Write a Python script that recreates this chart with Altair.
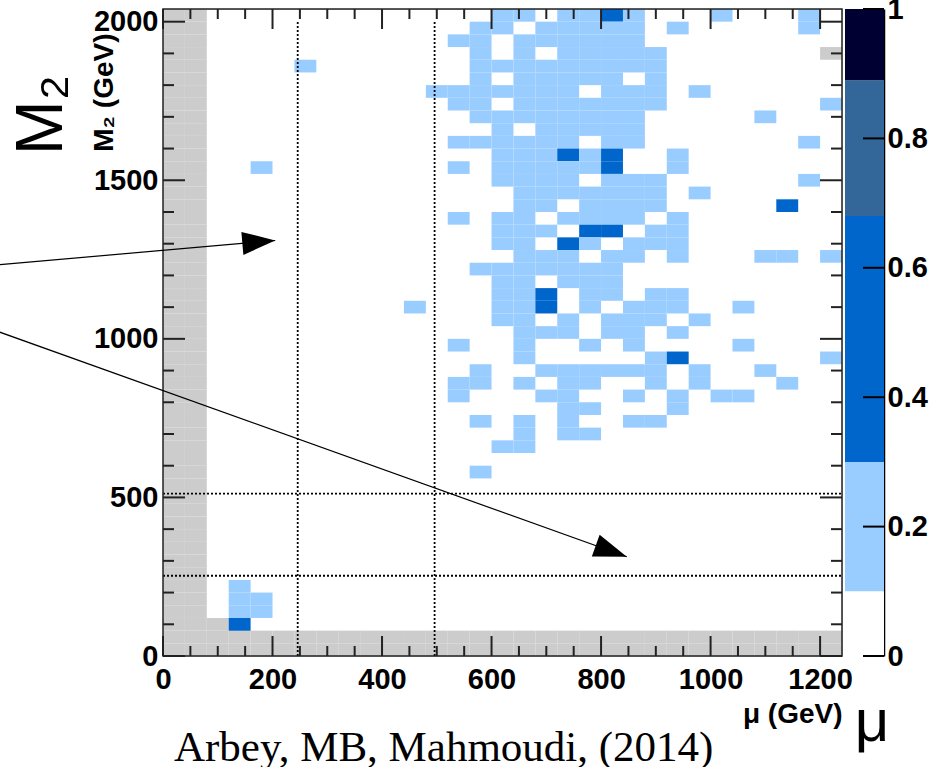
import altair as alt
import pandas as pd

# ---- scan binning ---------------------------------------------------------
MU_EDGE = 40          # GeV per mu bin
M2_EDGE = 40          # GeV per M2 bin
MU_RANGE = [0, 1240]
M2_RANGE = [0, 2040]

# One string per M2 bin, top bin (2000-2040 GeV) first; one character per mu bin.
#   '#' outside the scanned region, '.' fraction below 0.1,
#   'a' fraction 0.1-0.3, 'b' fraction 0.3-0.68
GRID_ROWS = [
    "##" + "............." + "aa.aaba...a...a.",
    "##" + "............a" + "a.aaaaa.a.....a.",
    "##" + "...........aa" + ".aaaaaa.........",
    "##" + "............a" + ".a.aaaaa.......#",
    "##" + "....a.......a" + "aaaaaaaa........",
    "##" + "............a" + ".aaaaa.a........",
    "##" + "..........aaa" + "aaaa.aaa.a......",
    "##" + "...........aa" + ".aaaaaaa.......a",
    "##" + "............a" + "aaaaaaa.....a...",
    "##" + "............." + "a.aaaaa.........",
    "##" + "...........aa" + "aaaa.aa.......a.",
    "##" + "............." + "aaabab..a.......",
    "##" + "..a........a." + "aaaaab..a.......",
    "##" + "............." + "aaaa.aaa......a.",
    "##" + "............." + ".aaaaaaa.a......",
    "##" + "............." + ".aa.aaaa.....b..",
    "##" + "...........a." + "aa.aaaa.a.......",
    "##" + "............." + "aaa.bb.aa.......",
    "##" + "............." + "aa.ba.aaa.......",
    "##" + "............." + ".aaa.aa.a...aa.a",
    "##" + "............a" + "aaaaaa..........",
    "##" + "............." + "aa.aaa..........",
    "##" + "............." + "aab.aa.aa.......",
    "##" + ".........a..." + "aab.a.aaa..a....",
    "##" + "............." + "aa.a.aaa.a......",
    "##" + "............." + ".aaa.aa.a.......",
    "##" + "...........a." + ".a..a.a....a....",
    "##" + "............." + ".a.....ab......a",
    "##" + "............a" + "..aaaaaa.a..a...",
    "##" + "...........aa" + ".a.aa..a.a...a..",
    "##" + "...........a." + "..aa..a.a.aa....",
    "##" + "............." + "...aa...a.......",
    "##" + "............a" + ".a.a..aa........",
    "##" + "............." + ".a.aa...........",
    "##" + "............." + "aa..............",
    "##" + "............." + "................",
    "##" + "............a" + "................",
    "##" + "............." + "................",
    "##" + "............." + "................",
    "##" + "............." + "................",
    "##" + "............." + "................",
    "##" + "............." + "................",
    "##" + "............." + "................",
    "##" + "............." + "................",
    "##" + "............." + "................",
    "##" + ".a..........." + "................",
    "##" + ".aa.........." + "................",
    "##" + ".aa.........." + "................",
    "##" + "#b..........." + "................",
    "###############################",
    "###############################",
]
LEVEL_FRACTION = {"a": 0.2, "b": 0.5}

# palette bands of the fraction scale
BAND_EDGES = [0.0, 0.1, 0.3, 0.68, 0.89, 1.0]
PALETTE = ["#ffffff", "#99ccff", "#0066cc", "#336699", "#000033"]
EXCLUDED_COLOR = "#cccccc"

# reference lines (GeV)
MU_LINES = [246, 496]
MU_LINE_SPAN = [0, 2000]
M2_LINES = [512, 253]
M2_LINE_SPAN = [0, 1240]

# axis ticks
X_LABELS = [0, 200, 400, 600, 800, 1000, 1200]
X_MINOR = [v for v in range(50, 1240, 50) if v % 200]
Y_LABELS = [0, 500, 1000, 1500, 2000]
Y_MINOR = [v for v in range(100, 2040, 100) if v % 500]
CBAR_TICKS = [0, 0.2, 0.4, 0.6, 0.8, 1.0]

# annotation arrows: start, tip (mu, M2) and heading in degrees
ARROW_MU0 = [-298, -298]
ARROW_M20 = [1234, 1021]
ARROW_MU1 = [205, 847]
ARROW_M21 = [1310, 313]
ARROW_ANGLE = [355, 19.7]

W, H = 679, 647
SANS = "Liberation Sans, Arial, Helvetica, sans-serif"
SERIF = "Liberation Serif, Times New Roman, serif"
LABEL_SIZE = 29

# ---- build cell table ----------------------------------------------------
cells, excluded = [], []
n_rows = len(GRID_ROWS)
for k, row in enumerate(GRID_ROWS):
    j = n_rows - 1 - k
    for i, ch in enumerate(row):
        if ch == ".":
            continue
        rec = {"mu_lo": i * MU_EDGE, "mu_hi": (i + 1) * MU_EDGE,
               "m2_lo": j * M2_EDGE, "m2_hi": (j + 1) * M2_EDGE}
        if ch == "#":
            excluded.append(rec)
        else:
            rec["frac"] = LEVEL_FRACTION[ch]
            cells.append(rec)
cells = pd.DataFrame(cells)
excluded = pd.DataFrame(excluded)

color_scale = alt.Scale(type="threshold", domain=BAND_EDGES[1:-1], range=PALETTE)
x_scale = alt.Scale(domain=MU_RANGE, nice=False, zero=False)
y_scale = alt.Scale(domain=M2_RANGE, nice=False, zero=False)

x_axis = alt.Axis(
    values=X_LABELS, format="d", ticks=False, domain=False, grid=False,
    labelFlush=False, labelOverlap=False, labelFont=SANS,
    labelFontSize=LABEL_SIZE, labelFontWeight="bold", labelColor="black",
    labelPadding=9,
    title="μ (GeV)", titleFont=SANS, titleFontSize=28, titleFontWeight="bold",
    titleColor="black", titleX=W, titleY=58, titleAlign="right",
    titleBaseline="middle", titleAnchor="end",
)
y_axis = alt.Axis(
    values=Y_LABELS, format="d", ticks=False, domain=False, grid=False,
    labelFlush=False, labelOverlap=False, labelFont=SANS,
    labelFontSize=LABEL_SIZE, labelFontWeight="bold", labelColor="black",
    labelPadding=5,
    title="M₂ (GeV)", titleFont=SANS, titleFontSize=28, titleFontWeight="bold",
    titleColor="black", titleX=-59, titleY=24, titleAngle=270,
    titleAlign="right", titleBaseline="middle", titleAnchor="end",
)


def X(field):
    return alt.X(field, scale=x_scale, axis=x_axis)


def Y(field):
    return alt.Y(field, scale=y_scale, axis=y_axis)


grey = alt.Chart(excluded).mark_rect(color=EXCLUDED_COLOR).encode(
    x=X("mu_lo:Q"), x2="mu_hi:Q", y=Y("m2_lo:Q"), y2="m2_hi:Q",
)

heat = alt.Chart(cells).mark_rect().encode(
    x=X("mu_lo:Q"), x2="mu_hi:Q", y=Y("m2_lo:Q"), y2="m2_hi:Q",
    color=alt.Color("frac:Q", scale=color_scale, legend=None),
)

dotted = dict(color="black", strokeDash=[2, 2], strokeWidth=1.8)
vlines = alt.Chart(pd.DataFrame({"mu": MU_LINES, "lo": MU_LINE_SPAN[0], "hi": MU_LINE_SPAN[1]})).mark_rule(**dotted).encode(
    x=X("mu:Q"), y=Y("lo:Q"), y2="hi:Q")
hlines = alt.Chart(pd.DataFrame({"m2": M2_LINES, "lo": M2_LINE_SPAN[0], "hi": M2_LINE_SPAN[1]})).mark_rule(**dotted).encode(
    y=Y("m2:Q"), x=X("lo:Q"), x2="hi:Q")


def x_ticks(values, length):
    df = pd.DataFrame({"v": values})
    rule = alt.Chart(df).mark_rule(color="#222222", strokeWidth=2)
    bottom = rule.encode(x=X("v:Q"), y=alt.value(H), y2=alt.value(H - length))
    top = rule.encode(x=X("v:Q"), y=alt.value(0), y2=alt.value(length))
    return [bottom, top]


def y_ticks(values, length):
    df = pd.DataFrame({"v": values})
    rule = alt.Chart(df).mark_rule(color="#222222", strokeWidth=2)
    left = rule.encode(y=Y("v:Q"), x=alt.value(0), x2=alt.value(length))
    right = rule.encode(y=Y("v:Q"), x=alt.value(W), x2=alt.value(W - length))
    return [left, right]


ticks = x_ticks(X_LABELS, 20) + x_ticks(X_MINOR, 10) + y_ticks(Y_LABELS, 22) + y_ticks(Y_MINOR, 11)

frame = alt.Chart(pd.DataFrame({"k": [0]})).mark_rect(
    fill=None, stroke="#222222", strokeWidth=1.5
).encode(x=alt.value(0), x2=alt.value(W), y=alt.value(0), y2=alt.value(H))

arrows_df = pd.DataFrame({"mu0": ARROW_MU0, "m20": ARROW_M20, "mu1": ARROW_MU1,
                          "m21": ARROW_M21, "ang": ARROW_ANGLE})
shafts = alt.Chart(arrows_df).mark_rule(color="black", strokeWidth=1.2).encode(
    x=X("mu0:Q"), y=Y("m20:Q"), x2="mu1:Q", y2="m21:Q")
heads = alt.Chart(arrows_df).mark_point(
    shape="M0,0L-2,-0.7L-2,0.7Z", filled=True, size=1089, color="black",
    opacity=1, strokeWidth=0,
).encode(x=X("mu1:Q"), y=Y("m21:Q"), angle=alt.Angle("ang:Q", scale=None))

big_m2 = alt.Chart(pd.DataFrame({"t": ["M₂"]})).mark_text(
    font=SANS, fontSize=66, angle=270, align="center", baseline="middle", color="black"
).encode(text="t:N", x=alt.value(-121), y=alt.value(106))
big_mu = alt.Chart(pd.DataFrame({"t": ["μ"]})).mark_text(
    font=SANS, fontSize=60, align="center", baseline="alphabetic", color="black"
).encode(text="t:N", x=alt.value(709), y=alt.value(732))
credit = alt.Chart(pd.DataFrame({"t": ["Arbey, MB, Mahmoudi, (2014)"]})).mark_text(
    font=SERIF, fontSize=43, align="left", baseline="alphabetic", color="black"
).encode(text="t:N", x=alt.value(11), y=alt.value(752))

main = alt.layer(grey, heat, vlines, hlines, *ticks, frame, shafts, heads, big_m2, big_mu, credit)

# ---- colour bar ------------------------------------------------------------
bands = pd.DataFrame({
    "lo": BAND_EDGES[:-1],
    "hi": BAND_EDGES[1:],
    "mid": [(a + b) / 2 for a, b in zip(BAND_EDGES[:-1], BAND_EDGES[1:])],
})
cbar_scale = alt.Scale(domain=[0, 1], nice=False, zero=False)
cbar_axis = alt.Axis(
    orient="right", offset=42, values=CBAR_TICKS, format="~g", ticks=False,
    domain=True, domainColor="black", domainWidth=1.5, grid=False,
    labelFlush=False, labelOverlap=False, labelFont=SANS,
    labelFontSize=LABEL_SIZE, labelFontWeight="bold", labelColor="black",
    labelPadding=3, title=None,
)
cbar = alt.Chart(bands).mark_rect().encode(
    x=alt.value(682), x2=alt.value(721),
    y=alt.Y("lo:Q", scale=cbar_scale, axis=cbar_axis),
    y2="hi:Q",
    color=alt.Color("mid:Q", scale=color_scale, legend=None),
)
cbar_ticks = alt.Chart(pd.DataFrame({"v": CBAR_TICKS})).mark_rule(
    color="black", strokeWidth=2
).encode(y=alt.Y("v:Q", scale=cbar_scale, axis=cbar_axis), x=alt.value(700), x2=alt.value(721))

colorbar = alt.layer(cbar, cbar_ticks)

chart = alt.layer(main, colorbar).resolve_scale(y="independent").properties(
    width=W, height=H, autosize="none",
    padding={"left": 163, "top": 9, "right": 98, "bottom": 111},
).configure_view(stroke=None).configure(background="white")

chart.save("out.html", embed_options={"renderer": "svg", "actions": False})
